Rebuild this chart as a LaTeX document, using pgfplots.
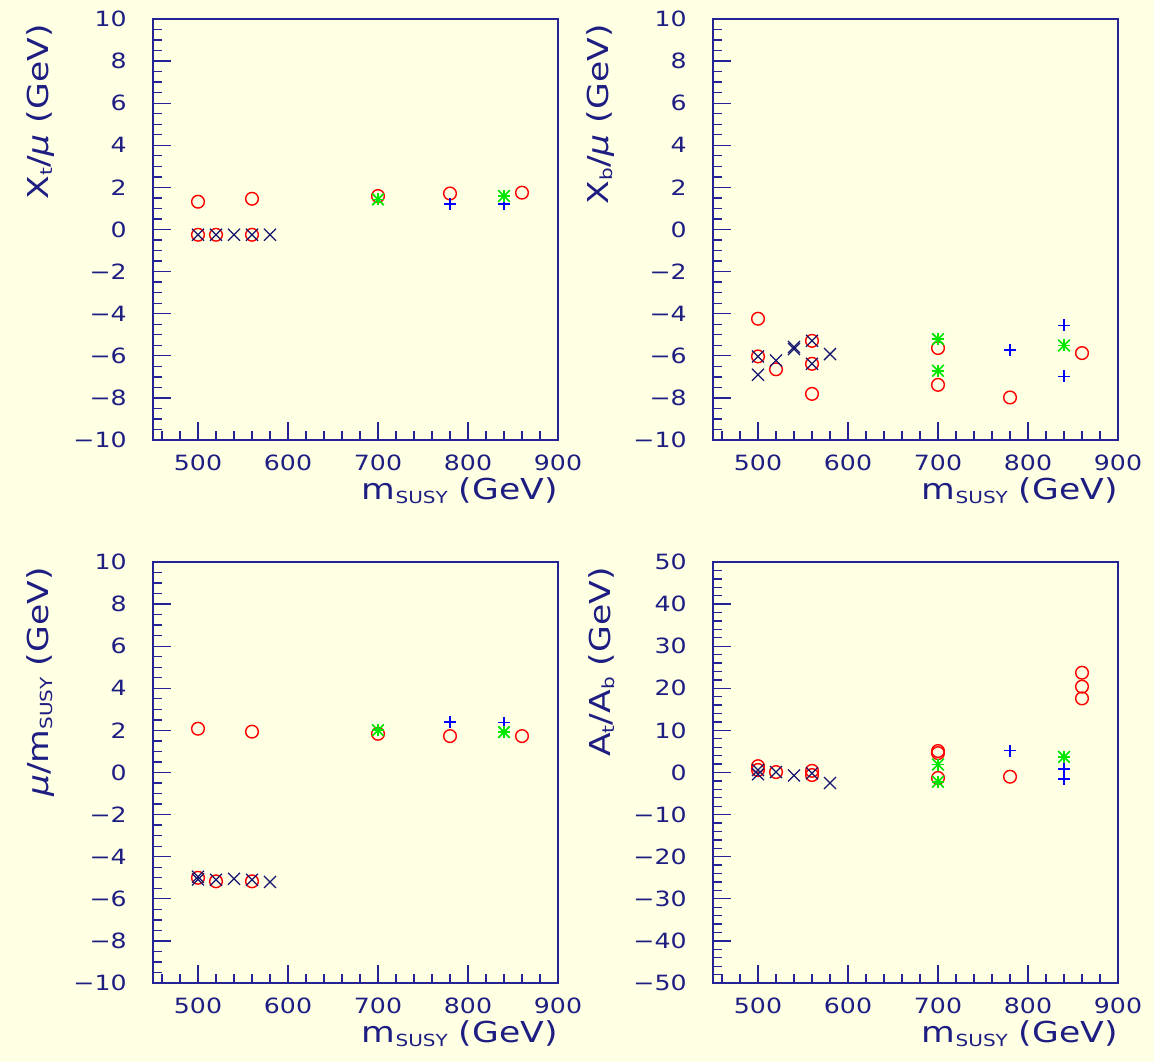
\documentclass[border=0pt]{standalone}
\usepackage{fontspec}
\setmainfont{DejaVu Sans}[FakeStretch=1.2]
\usepackage{pgfplots}
\pgfplotsset{compat=1.18}
\definecolor{bg}{RGB}{255,255,228}
\definecolor{navy}{RGB}{30,30,130}
\definecolor{fr}{RGB}{35,35,150}
\definecolor{mred}{RGB}{255,0,0}
\definecolor{mblue}{RGB}{0,0,255}
\definecolor{mgreen}{RGB}{0,230,0}
\definecolor{xnavy}{RGB}{20,20,110}
\newcommand{\sub}[1]{\raisebox{-2.5pt}{\fontsize{10}{10}\selectfont #1}}
\pgfplotsset{
 hz/.style={
  width=243pt, height=252.6pt, scale only axis,
  xmin=450, xmax=900,
  axis line style={fr, line width=1pt},
  tick style={fr, line width=0.8pt},
  tick align=inside, tick pos=left,
  major tick length=10.8pt, minor tick length=5.4pt,
  xtick={500,600,700,800,900},
  xticklabels={500,600,700,800,900},
  minor xtick={460,480,...,880},
  xticklabel style={font=\fontsize{12.6}{14}\selectfont, text=navy, inner sep=0pt, anchor=north, yshift=-9pt},
  yticklabel style={font=\fontsize{12.6}{14}\selectfont, text=navy, inner sep=0pt, anchor=east, xshift=-15.6pt},
  xlabel style={at={(axis description cs:1,-0.0879)}, anchor=north east, inner sep=0pt, font=\fontsize{17.3}{20}\selectfont, text=navy},
  ylabel style={at={(axis description cs:-0.242,0.988)}, anchor=south east, inner sep=0pt, font=\fontsize{17.3}{20}\selectfont, text=navy},
  xlabel={m\sub{SUSY} (GeV)},
 },
 small/.style={ymin=-10, ymax=10, ytick={-10,-8,...,10},
  yticklabels={−10,−8,−6,−4,−2,0,2,4,6,8,10},
  minor ytick={-9.5,-9,...,9.5}},
 circ/.style={only marks, mark=o, mark size=3.8pt, color=mred, mark options={line width=0.85pt}},
 crs/.style={only marks, mark=x, mark size=5.1pt, color=xnavy, mark options={line width=0.75pt}},
 pls/.style={only marks, mark=+, mark size=3.6pt, color=mblue, mark options={line width=1pt}},
 stA/.style={only marks, mark=+, mark size=3.6pt, color=mgreen, mark options={line width=1pt}},
 stB/.style={only marks, mark=x, mark size=4.9pt, color=mgreen, mark options={line width=1pt}},
}
\begin{document}
\begin{tikzpicture}
\fill[bg] (0,0) rectangle (692.4pt,637.2pt);
\useasboundingbox (0,0) rectangle (692.4pt,637.2pt);
% top left
\begin{axis}[hz, small, at={(91.8pt,373.2pt)}, anchor=south west,
  ylabel={X\sub{t}/\textit{μ} (GeV)}]
\addplot[circ] coordinates {(500,1.32)(560,1.46)(700,1.59)(780,1.71)(860,1.75)(500,-0.25)(520,-0.25)(560,-0.25)};
\addplot[crs] coordinates {(500,-0.25)(520,-0.25)(540,-0.25)(560,-0.25)(580,-0.25)};
\addplot[pls] coordinates {(780,1.22)(840,1.22)};
\addplot[stA] coordinates {(700,1.43)(840,1.59)};
\addplot[stB] coordinates {(700,1.43)(840,1.59)};
\end{axis}
% top right
\begin{axis}[hz, small, at={(427.8pt,373.2pt)}, anchor=south west,
  ylabel={X\sub{b}/\textit{μ} (GeV)}]
\addplot[circ] coordinates {(500,-4.24)(500,-6.03)(520,-6.64)(560,-5.29)(560,-6.38)(560,-7.81)(700,-5.63)(700,-7.38)(780,-7.98)(860,-5.87)};
\addplot[crs] coordinates {(500,-6.03)(500,-6.90)(520,-6.22)(540,-5.58)(540,-5.68)(560,-5.29)(560,-6.38)(580,-5.92)};
\addplot[pls] coordinates {(780,-5.71)(840,-4.56)(840,-6.98)};
\addplot[stA] coordinates {(700,-5.21)(700,-6.71)(840,-5.51)};
\addplot[stB] coordinates {(700,-5.21)(700,-6.71)(840,-5.51)};
\end{axis}
% bottom left
\begin{axis}[hz, small, at={(91.8pt,47.4pt)}, anchor=south west,
  ylabel={\textit{μ}/m\sub{SUSY} (GeV)}]
\addplot[circ] coordinates {(500,2.08)(560,1.94)(700,1.84)(780,1.73)(860,1.73)(500,-5.0)(520,-5.17)(560,-5.17)};
\addplot[crs] coordinates {(500,-4.95)(500,-5.08)(520,-5.10)(540,-5.05)(560,-5.1)(580,-5.2)};
\addplot[pls] coordinates {(780,2.40)(840,2.37)};
\addplot[stA] coordinates {(700,2.01)(840,1.92)};
\addplot[stB] coordinates {(700,2.01)(840,1.92)};
\end{axis}
% bottom right
\begin{axis}[hz, at={(427.8pt,47.4pt)}, anchor=south west,
  ymin=-50, ymax=50, ytick={-50,-40,...,50},
  yticklabels={−50,−40,−30,−20,−10,0,10,20,30,40,50},
  minor ytick={-48,-46,...,48},
  ylabel={A\sub{t}/A\sub{b} (GeV)}]
\addplot[circ] coordinates {(500,1.5)(500,0.6)(520,0.1)(560,0.4)(560,-0.6)(700,5.1)(700,4.6)(700,-1.3)(780,-1.0)(860,23.7)(860,20.4)(860,17.6)};
\addplot[crs] coordinates {(500,0.6)(500,-0.4)(520,0.1)(540,-0.7)(560,-0.2)(580,-2.5)};
\addplot[pls] coordinates {(780,5.2)(840,0.9)(840,-1.5)};
\addplot[stA] coordinates {(700,1.9)(700,-2.2)(840,3.7)};
\addplot[stB] coordinates {(700,1.9)(700,-2.2)(840,3.7)};
\end{axis}
\end{tikzpicture}
\end{document}
